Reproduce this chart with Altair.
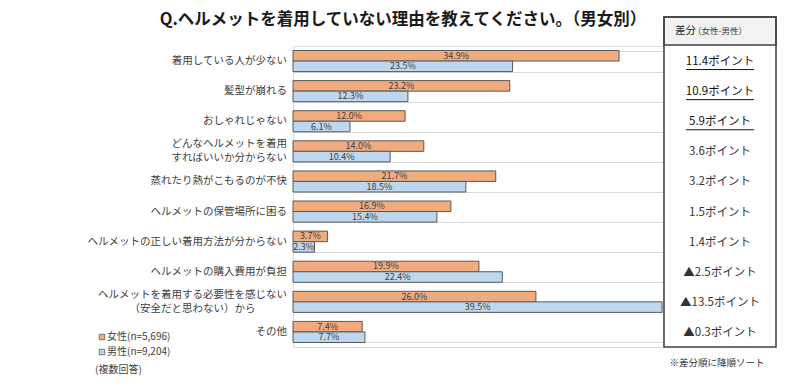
import altair as alt
import pandas as pd

# ---------------- data ----------------
categories = [
    "着用している人が少ない",
    "髪型が崩れる",
    "おしゃれじゃない",
    "どんなヘルメットを着用\nすればいいか分からない",
    "蒸れたり熱がこもるのが不快",
    "ヘルメットの保管場所に困る",
    "ヘルメットの正しい着用方法が分からない",
    "ヘルメットの購入費用が負担",
    "ヘルメットを着用する必要性を感じない\n（安全だと思わない）から",
    "その他",
]
female = [34.9, 23.2, 12.0, 14.0, 21.7, 16.9, 3.7, 19.9, 26.0, 7.4]
male = [23.5, 12.3, 6.1, 10.4, 18.5, 15.4, 2.3, 22.4, 39.5, 7.7]
diff_labels = [
    "11.4ポイント", "10.9ポイント", "5.9ポイント", "3.6ポイント", "3.2ポイント",
    "1.5ポイント", "1.4ポイント", "▲2.5ポイント", "▲13.5ポイント", "▲0.3ポイント",
]
underlined = [True, True, True, False, False, False, False, False, False, False]
genders = ["女性", "男性"]
legend_labels = ["女性(n=5,696)", "男性(n=9,204)"]
title_text = "Q.ヘルメットを着用していない理由を教えてください。（男女別）"
table_header_main = "差分"
table_header_sub = "（女性-男性）"
note_text = "※差分順に降順ソート"
multi_note = "(複数回答)"

FONT = "Noto Sans CJK JP"
COLORS = ["#F0AB7E", "#BDD7EE"]
LABEL_SIZE = 10.5
LABEL_PAD = 6

rows = []
for c, f, m in zip(categories, female, male):
    rows.append({"cat": c, "gender": genders[0], "value": f})
    rows.append({"cat": c, "gender": genders[1], "value": m})
df = pd.DataFrame(rows)
df["label"] = df["value"].map(lambda v: f"{v:.1f}%")
df["mid"] = df["value"] / 2

tbl = pd.DataFrame({"cat": categories, "diff": diff_labels, "ul": underlined})

lab = pd.DataFrame({"cat": categories})
lab["multi"] = lab["cat"].str.contains("\n")
# centre of a multi-line label block (lines centred on each other, block right-aligned)
lab["lx"] = lab["cat"].map(
    lambda s: -LABEL_PAD - max(len(p) for p in s.split("\n")) * LABEL_SIZE / 2
)

y_enc = alt.Y(
    "cat:N",
    sort=categories,
    title=None,
    scale=alt.Scale(paddingInner=0.3, paddingOuter=0.15),
    axis=alt.Axis(
        grid=True,
        tickBand="extent",
        gridColor="#d9d9d9",
        gridWidth=1,
        domain=False,
        ticks=False,
        labels=False,
    ),
)
y_plain = alt.Y("cat:N", sort=categories)
color_enc = alt.Color(
    "gender:N", scale=alt.Scale(domain=genders, range=COLORS), legend=None
)
yoff = alt.YOffset("gender:N", sort=genders, scale=alt.Scale(paddingInner=0, paddingOuter=0))

base = alt.Chart(df)
bars = base.mark_bar(stroke="#595959", strokeWidth=1).encode(
    y=y_enc,
    yOffset=yoff,
    x=alt.X("value:Q", axis=None, scale=alt.Scale(domain=[0, 39.6], nice=False)),
    color=color_enc,
)
bar_text = base.mark_text(font=FONT, fontSize=9, color="#404040").encode(
    y=y_plain,
    yOffset=yoff,
    x="mid:Q",
    text="label:N",
)

# category labels
lab_single = alt.Chart(lab).transform_filter("!datum.multi").mark_text(
    font=FONT, fontSize=LABEL_SIZE, color="#404040", align="right"
).encode(y=y_plain, x=alt.value(-LABEL_PAD), text="cat:N")
lab_multi = alt.Chart(lab).transform_filter("datum.multi").mark_text(
    font=FONT, fontSize=LABEL_SIZE, color="#404040", align="center",
    lineBreak="\n", lineHeight=14, dy=-7,
).encode(y=y_plain, x=alt.X("lx:Q", scale=None), text="cat:N")

# table on the right
table_box = alt.Chart(pd.DataFrame({"a": [0]})).mark_rect(
    fill="white", fillOpacity=0, stroke="#404040", strokeWidth=1.5
).encode(x=alt.value(371), x2=alt.value(483), y=alt.value(-29), y2=alt.value(301))
table_head = alt.Chart(pd.DataFrame({"a": [0]})).mark_rect(
    fill="#f2f2f2", stroke="#404040", strokeWidth=1.5
).encode(x=alt.value(371), x2=alt.value(483), y=alt.value(-29), y2=alt.value(-1))
head_main = alt.Chart(pd.DataFrame({"t": [table_header_main]})).mark_text(
    font=FONT, fontSize=10.5, color="#262626", align="left"
).encode(text="t:N", x=alt.value(382), y=alt.value(-15))
head_sub = alt.Chart(pd.DataFrame({"t": [table_header_sub]})).mark_text(
    font=FONT, fontSize=8.5, color="#404040", align="left"
).encode(text="t:N", x=alt.value(400), y=alt.value(-15))
table_text = alt.Chart(tbl).mark_text(font=FONT, fontSize=11.5, dy=1).encode(
    y=y_plain,
    x=alt.value(427),
    text="diff:N",
    color=alt.condition("datum.ul", alt.value("#111111"), alt.value("#333333")),
)
underline = alt.Chart(tbl).transform_filter("datum.ul").mark_rule(
    color="#111111", strokeWidth=1, yOffset=8.5
).encode(y=y_plain, x=alt.value(393), x2=alt.value(461))
note = alt.Chart(pd.DataFrame({"t": [note_text]})).mark_text(
    font=FONT, fontSize=9.5, color="#333333"
).encode(text="t:N", x=alt.value(424), y=alt.value(317))

# title
title = alt.Chart(pd.DataFrame({"t": [title_text]})).mark_text(
    font=FONT, fontSize=16.5, fontWeight="bold", color="#1a1a1a"
).encode(text="t:N", x=alt.value(110), y=alt.value(-26))

# legend
def legend_item(i, yv):
    sq = alt.Chart(pd.DataFrame({"gender": [genders[i]]})).mark_square(
        size=30, stroke="#595959", strokeWidth=0.8, opacity=1
    ).encode(x=alt.value(-191), y=alt.value(yv), color=color_enc)
    tx = alt.Chart(pd.DataFrame({"t": [legend_labels[i]]})).mark_text(
        font=FONT, fontSize=10, color="#404040", align="left"
    ).encode(text="t:N", x=alt.value(-186), y=alt.value(yv))
    return sq + tx

leg1 = legend_item(0, 291)
leg2 = legend_item(1, 306)
multi = alt.Chart(pd.DataFrame({"t": [multi_note]})).mark_text(
    font=FONT, fontSize=10, color="#404040", align="left"
).encode(text="t:N", x=alt.value(-198), y=alt.value(324))

chart = alt.layer(
    bars, bar_text, lab_single, lab_multi, table_head, table_box, head_main,
    head_sub, table_text, underline, note, title, leg1, leg2, multi,
).properties(
    width=370,
    height=301,
    autosize=alt.AutoSizeParams(type="none"),
    padding={"left": 285, "top": 38, "right": 129, "bottom": 31},
).configure_view(stroke=None).configure(background="white")

chart.save("out.html", embed_options={"renderer": "svg", "actions": False})
